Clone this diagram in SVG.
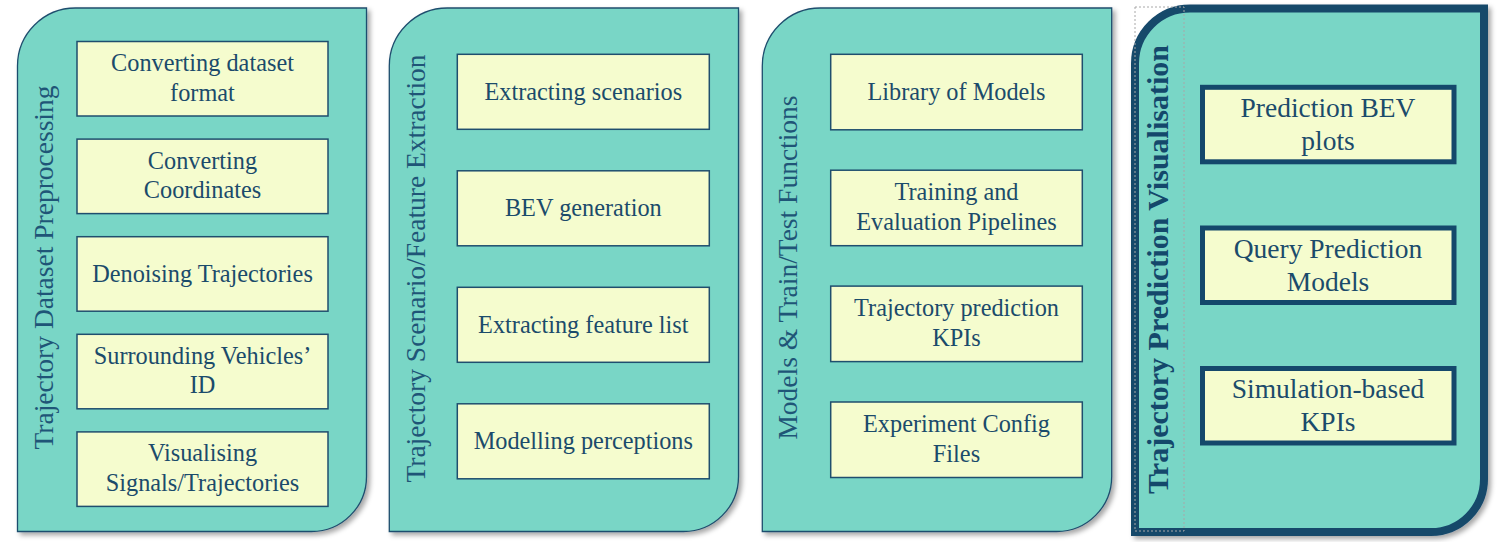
<svg xmlns="http://www.w3.org/2000/svg" width="1503" height="542" viewBox="0 0 1503 542">
<style>
.panel{fill:#79D6C6;stroke:#1F4E6E;stroke-width:1.3}
.panel4{fill:#79D6C6;stroke:#14486B;stroke-width:8}
.box{fill:#F5FCCE;stroke:#1F4E6E;stroke-width:1.5}
.box4{fill:#F5FCCE;stroke:#14486B;stroke-width:5}
text{font-family:'Liberation Serif','Tinos','DejaVu Serif',serif}
.t{font-size:24.3px;fill:#1B4B6B;text-anchor:middle}
.t4{font-size:27.5px;fill:#1B4B6B;text-anchor:middle}
.title{font-size:27.5px;fill:#1F5577;text-anchor:middle}
.title4{font-size:30px;font-weight:bold;fill:#14486B;text-anchor:middle}
</style>
<defs>
<filter id="sh" x="-10%" y="-10%" width="120%" height="120%">
<feDropShadow dx="3" dy="3" stdDeviation="2.5" flood-color="#000" flood-opacity="0.35"/>
</filter>
</defs>

<g id="panel1">
<path class="panel" filter="url(#sh)" d="M75.5 8 H366.5 V476.5 A55 55 0 0 1 311.5 531.5 H17.5 V66 A58 58 0 0 1 75.5 8 Z"/>
<text class="title" font-family="Liberation Serif, serif" transform="translate(53,267.5) rotate(-90)">Trajectory Dataset Preprocessing</text>
<g id="p1b1"><rect class="box" x="77" y="41.5" width="251" height="74.5"/><text class="t" x="202.5" y="71">Converting dataset</text><text class="t" x="202.5" y="100.5">format</text></g>
<g id="p1b2"><rect class="box" x="77" y="139.1" width="251" height="74.5"/><text class="t" x="202.5" y="168.6">Converting</text><text class="t" x="202.5" y="198.1">Coordinates</text></g>
<g id="p1b3"><rect class="box" x="77" y="236.7" width="251" height="74.5"/><text class="t" x="202.5" y="282">Denoising Trajectories</text></g>
<g id="p1b4"><rect class="box" x="77" y="334.3" width="251" height="74.5"/><text class="t" x="202.5" y="363.8">Surrounding Vehicles’</text><text class="t" x="202.5" y="393.3">ID</text></g>
<g id="p1b5"><rect class="box" x="77" y="431.9" width="251" height="74.5"/><text class="t" x="202.5" y="461.4">Visualising</text><text class="t" x="202.5" y="490.9">Signals/Trajectories</text></g>
</g>

<g id="panel2">
<path class="panel" filter="url(#sh)" d="M447.3 8 H738.5 V476.5 A55 55 0 0 1 683.5 531.5 H389.3 V66 A58 58 0 0 1 447.3 8 Z"/>
<text class="title" transform="translate(425,268.5) rotate(-90)">Trajectory Scenario/Feature Extraction</text>
<g id="p2b1"><rect class="box" x="457.3" y="54.3" width="252" height="75"/><text class="t" x="583.3" y="99.8">Extracting scenarios</text></g>
<g id="p2b2"><rect class="box" x="457.3" y="170.8" width="252" height="75"/><text class="t" x="583.3" y="216.3">BEV generation</text></g>
<g id="p2b3"><rect class="box" x="457.3" y="287.3" width="252" height="75"/><text class="t" x="583.3" y="332.8">Extracting feature list</text></g>
<g id="p2b4"><rect class="box" x="457.3" y="403.8" width="252" height="75"/><text class="t" x="583.3" y="449.3">Modelling perceptions</text></g>
</g>

<g id="panel3">
<path class="panel" filter="url(#sh)" d="M820.3 8 H1111.7 V476.5 A55 55 0 0 1 1056.7 531.5 H762.3 V66 A58 58 0 0 1 820.3 8 Z"/>
<text class="title" transform="translate(797,267.5) rotate(-90)">Models &amp; Train/Test Functions</text>
<g id="p3b1"><rect class="box" x="830.7" y="54.3" width="251.6" height="75.5"/><text class="t" x="956.5" y="100">Library of Models</text></g>
<g id="p3b2"><rect class="box" x="830.7" y="170.2" width="251.6" height="75.5"/><text class="t" x="956.5" y="200.2">Training and</text><text class="t" x="956.5" y="229.7">Evaluation Pipelines</text></g>
<g id="p3b3"><rect class="box" x="830.7" y="286.1" width="251.6" height="75.5"/><text class="t" x="956.5" y="316.1">Trajectory prediction</text><text class="t" x="956.5" y="345.6">KPIs</text></g>
<g id="p3b4"><rect class="box" x="830.7" y="402" width="251.6" height="75.5"/><text class="t" x="956.5" y="432">Experiment Config</text><text class="t" x="956.5" y="461.5">Files</text></g>
</g>

<g id="panel4">
<path class="panel4" filter="url(#sh)" d="M1190 8.5 H1484 V479 A53 53 0 0 1 1431 532 H1135 V63.5 A55 55 0 0 1 1190 8.5 Z"/>
<rect x="1135" y="7" width="49" height="524" fill="none" stroke="#A8A8A8" stroke-width="1" stroke-dasharray="2 2"/>
<text class="title4" transform="translate(1168,269.5) rotate(-90)">Trajectory Prediction Visualisation</text>
<g id="p4b1"><rect class="box4" x="1202.5" y="87.3" width="251.5" height="74.5"/><text class="t4" x="1328" y="117">Prediction BEV</text><text class="t4" x="1328" y="150">plots</text></g>
<g id="p4b2"><rect class="box4" x="1202.5" y="228" width="251.5" height="74.5"/><text class="t4" x="1328" y="257.7">Query Prediction</text><text class="t4" x="1328" y="290.7">Models</text></g>
<g id="p4b3"><rect class="box4" x="1202.5" y="368.5" width="251.5" height="74.5"/><text class="t4" x="1328" y="398.2">Simulation-based</text><text class="t4" x="1328" y="431.2">KPIs</text></g>
</g>

<g id="connectors"></g>
</svg>
